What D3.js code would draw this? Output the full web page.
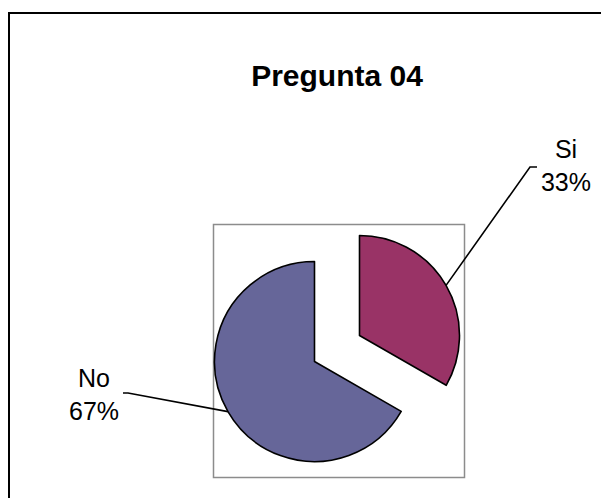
<!DOCTYPE html>
<html>
<head>
<meta charset="utf-8">
<script src="https://cdn.jsdelivr.net/npm/d3@7"></script>
<style>
    html, body { margin: 0; padding: 0; background: #fff; }
    svg { display: block; font-family: "Liberation Sans", Arial, sans-serif; }
</style>
</head>
<body>
<svg id="pie-chart" width="601" height="498"></svg>
<script>
const title = 'Pregunta 04';
const categories = ['Si', 'No'];
const values = [33.3, 66.7];
const colors = ['#993366', '#666699'];

document.addEventListener('DOMContentLoaded', () => {
    drawChart();
});

function drawChart() {
    const svg = d3.select('#pie-chart');
    const center = { x: 337, y: 348.5 };
    const radius = 100;
    const explode = 26;

    // borde exterior del grafico
    svg.append('rect')
        .attr('x', 9).attr('y', 13)
        .attr('width', 620).attr('height', 520)
        .attr('fill', '#fff')
        .attr('stroke', '#000')
        .attr('stroke-width', 2);

    // area de trazado
    svg.append('rect')
        .attr('x', 213.5).attr('y', 224.5)
        .attr('width', 251).attr('height', 253)
        .attr('fill', 'none')
        .attr('stroke', '#8c8c8c')
        .attr('stroke-width', 1.5);

    svg.append('text')
        .attr('x', 337).attr('y', 86)
        .attr('text-anchor', 'middle')
        .attr('font-size', 30)
        .attr('font-weight', 'bold')
        .text(title);

    const data = categories.map((c, i) => ({ name: c, value: values[i], color: colors[i] }));
    const total = d3.sum(values);
    const pct = d3.format('.0%');

    const pie = d3.pie().sort(null).value(d => d.value);
    const arcs = pie(data);

    const arc = d3.arc().innerRadius(0).outerRadius(radius);
    const edge = d3.arc().innerRadius(radius).outerRadius(radius);

    // posiciones de las etiquetas respecto al centro (codo de la linea guia)
    const labelLayout = [
        { elbow: [193, -181.5], tick: 7, text: [229, -191] },
        { elbow: [-209, 44.5], tick: -5, text: [-243, 38.5] }
    ];

    const g = svg.append('g')
        .attr('transform', `translate(${center.x},${center.y})`);

    arcs.forEach((d, i) => {
        const mid = (d.startAngle + d.endAngle) / 2;
        const dx = explode * Math.sin(mid);
        const dy = -explode * Math.cos(mid);

        const slice = g.append('g').attr('transform', `translate(${dx},${dy})`);
        slice.append('path')
            .attr('d', arc(d))
            .attr('fill', d.data.color)
            .attr('stroke', '#000')
            .attr('stroke-width', 1.6)
            .attr('stroke-linejoin', 'round');

        const [ex, ey] = edge.centroid(d);
        const lay = labelLayout[i];
        const p0 = [ex + dx, ey + dy];
        const p1 = lay.elbow;
        const p2 = [p1[0] + lay.tick, p1[1]];

        g.append('path')
            .attr('d', d3.line()([p0, p1, p2]))
            .attr('fill', 'none')
            .attr('stroke', '#000')
            .attr('stroke-width', 1.6);

        const label = g.append('text')
            .attr('text-anchor', 'middle')
            .attr('font-size', 25)
            .attr('fill', '#000');
        label.append('tspan')
            .attr('x', lay.text[0]).attr('y', lay.text[1])
            .text(d.data.name);
        label.append('tspan')
            .attr('x', lay.text[0]).attr('y', lay.text[1] + 33)
            .text(pct(d.data.value / total));
    });
}
</script>
</body>
</html>
